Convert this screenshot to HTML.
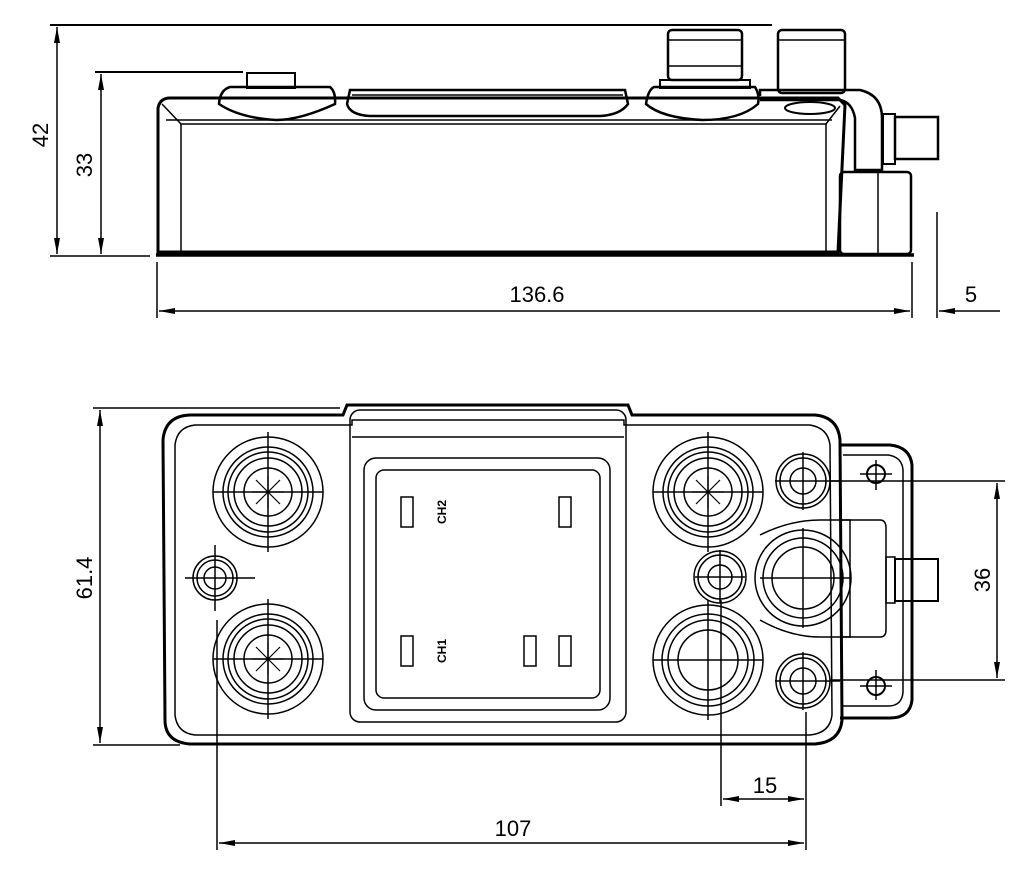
<!DOCTYPE html>
<html><head><meta charset="utf-8"><style>
html,body{margin:0;padding:0;background:#fff;}
svg{display:block;}
text{font-family:"Liberation Sans",sans-serif;font-size:22px;fill:#000;}
</style></head><body>
<svg width="1024" height="881" viewBox="0 0 1024 881" xmlns="http://www.w3.org/2000/svg">
<defs>
<marker id="a" markerWidth="16" markerHeight="6" refX="16" refY="3" orient="auto" markerUnits="userSpaceOnUse"><path d="M0,0 L16,3 L0,6 Z" fill="#000"/></marker>
<marker id="b" markerWidth="16" markerHeight="6" refX="0" refY="3" orient="auto" markerUnits="userSpaceOnUse"><path d="M16,0 L0,3 L16,6 Z" fill="#000"/></marker>
</defs>
<g stroke="#000" fill="none" stroke-width="1.5">
<line x1="50" y1="25" x2="772" y2="25" stroke-width="2"/>
<line x1="50" y1="256" x2="150" y2="256"/>
<line x1="57" y1="27" x2="57" y2="254" marker-start="url(#b)" marker-end="url(#a)"/>
<line x1="95" y1="72" x2="243" y2="72" stroke-width="2"/>
<line x1="101" y1="74" x2="101" y2="254" marker-start="url(#b)" marker-end="url(#a)"/>
<path d="M158,252 L158,108 Q160,98 170,98 L838,98 L845,105 L838,252 Z" stroke-width="3"/>
<path d="M162,104 L181,124 L826,124 L840,106" stroke-width="1.5"/>
<line x1="166" y1="120" x2="832" y2="120"/>
<line x1="181" y1="124" x2="181" y2="252"/>
<line x1="826" y1="124" x2="826" y2="252"/>
<line x1="156" y1="255" x2="914" y2="255" stroke-width="3.5"/>
<path d="M219,104 Q220,90 230,87 L330,87 Q336,92 335,104 Q300,120 276,120 Q240,118 219,104 Z" stroke-width="2.5"/>
<rect x="247" y="73" width="48" height="15" stroke-width="2"/>
<path d="M347,104 L350,90 L625,90 L628,104 Q620,115 600,116 L370,116 Q350,115 347,104 Z" stroke-width="2.5"/>
<line x1="352" y1="95" x2="623" y2="95"/>
<path d="M646,104 Q648,90 654,87 L755,87 Q760,95 758,104 Q740,120 702,120 Q662,118 646,104 Z" stroke-width="2.5"/>
<rect x="660" y="80" width="90" height="8" stroke-width="2"/>
<rect x="668" y="30" width="74" height="50" rx="4" stroke-width="2.5"/>
<line x1="668" y1="40" x2="742" y2="40"/>
<line x1="668" y1="66" x2="742" y2="66"/>
<rect x="778" y="30" width="67" height="63" rx="4" stroke-width="2.5"/>
<line x1="778" y1="40" x2="845" y2="40"/>
<path d="M760,96 L760,90 L860,90 Q882,95 882,118 L882,170 L855,170 L855,118 Q852,102 840,100 L760,100" stroke-width="2.5"/>
<ellipse cx="810" cy="108" rx="25" ry="6" stroke-width="2"/>
<rect x="883" y="114" width="12" height="50" stroke-width="2"/>
<rect x="895" y="117" width="43" height="42" stroke-width="2.5"/>
<rect x="840" y="172" width="71" height="82" rx="4" stroke-width="2.5"/>
<line x1="878" y1="172" x2="878" y2="254"/>
<line x1="157" y1="262" x2="157" y2="318"/>
<line x1="912" y1="262" x2="912" y2="318"/>
<line x1="937" y1="212" x2="937" y2="318"/>
<line x1="159" y1="311" x2="910" y2="311" marker-start="url(#b)" marker-end="url(#a)"/>
<line x1="1000" y1="311" x2="939" y2="311" marker-end="url(#a)"/>

<line x1="93" y1="408" x2="340" y2="408"/>
<line x1="93" y1="745" x2="180" y2="745"/>
<line x1="100" y1="410" x2="100" y2="743" marker-start="url(#b)" marker-end="url(#a)"/>
<path d="M190,415 L343,415 L347,405 L628,405 L632,415 L815,415 Q838,417 840,440 L842,720 Q840,742 815,744 L190,744 Q165,742 165,720 L163,440 Q165,416 190,415 Z" stroke-width="3"/>
<path d="M195,425 L352,425 L352,420 L624,420 L624,425 L810,425 Q828,428 830,445 L832,715 Q830,733 810,735 L195,735 Q177,733 175,715 L175,445 Q177,427 195,425 Z"/>
<rect x="350" y="410" width="276" height="312" rx="10"/>
<line x1="352" y1="437" x2="624" y2="437"/>
<rect x="364" y="458" width="246" height="252" rx="12" stroke-width="1.5"/>
<rect x="376" y="470" width="224" height="228" rx="8" stroke-width="1.5"/>
<rect x="401" y="497" width="12" height="30"/>
<rect x="559" y="497" width="12" height="30"/>
<rect x="401" y="636" width="12" height="30"/>
<rect x="524" y="636" width="12" height="30"/>
<rect x="559" y="636" width="12" height="30"/>
<path d="M840,445 L890,445 Q910,447 912,465 L912,700 Q910,718 890,718 L840,718" stroke-width="3"/>
<path d="M843,455 L888,455 Q902,457 903,470 L903,692 Q902,706 888,706 L843,706"/>
<path d="M840,520 L880,520 Q886,520 886,528 L886,630 Q886,637 880,637 L840,637"/>
<path d="M760,535 Q790,520 820,520 L850,520 L850,637 L820,637 Q790,637 760,620"/>
<rect x="886" y="557" width="9" height="46"/>
<rect x="895" y="559" width="43" height="42" stroke-width="2"/>
<circle cx="268" cy="492" r="55"/><circle cx="268" cy="492" r="45"/><circle cx="268" cy="492" r="40"/><circle cx="268" cy="492" r="34"/><circle cx="268" cy="492" r="24"/>
<circle cx="268" cy="659" r="55"/><circle cx="268" cy="659" r="45"/><circle cx="268" cy="659" r="40"/><circle cx="268" cy="659" r="34"/><circle cx="268" cy="659" r="24"/>
<circle cx="708" cy="492" r="55"/><circle cx="708" cy="492" r="45"/><circle cx="708" cy="492" r="40"/><circle cx="708" cy="492" r="34"/><circle cx="708" cy="492" r="24"/>
<circle cx="708" cy="660" r="55"/><circle cx="708" cy="660" r="46"/><circle cx="708" cy="660" r="40"/><circle cx="708" cy="660" r="30"/>
<g stroke-width="1.2">
<path d="M256,480 L280,504 M280,480 L256,504 M268,476 L268,508 M252,492 L284,492"/>
<path d="M256,647 L280,671 M280,647 L256,671 M268,643 L268,675 M252,659 L284,659"/>
<path d="M696,480 L720,504 M720,480 L696,504 M708,476 L708,508 M692,492 L724,492"/>
</g>
<circle cx="215" cy="578" r="22"/><circle cx="215" cy="578" r="18"/><circle cx="215" cy="578" r="11"/>
<circle cx="720" cy="577" r="26"/><circle cx="720" cy="577" r="22"/><circle cx="720" cy="577" r="12"/>
<circle cx="803" cy="481" r="27"/><circle cx="803" cy="481" r="23"/><circle cx="803" cy="481" r="13"/>
<circle cx="803" cy="681" r="27"/><circle cx="803" cy="681" r="23"/><circle cx="803" cy="681" r="13"/>
<circle cx="803" cy="578" r="48"/><circle cx="803" cy="578" r="40"/><circle cx="803" cy="578" r="31"/>
<circle cx="876" cy="474" r="9" stroke-width="2"/><circle cx="876" cy="686" r="9" stroke-width="2"/>
<g stroke-width="1.5">
<path d="M268,432 V552 M213,492 H323 M268,599 V719 M213,659 H323 M708,432 V552 M653,492 H763 M708,600 V720 M653,660 H763"/>
<path d="M185,578 H255 M215,545 V611 M695,577 H745 M720,550 V603 M775,481 H840 M803,452 V510 M775,681 H840 M803,652 V710 M760,578 H850 M803,528 V628 M860,474 H892 M876,460 V490 M860,686 H892 M876,670 V700"/>
</g>
<line x1="830" y1="481" x2="1005" y2="481"/>
<line x1="830" y1="680" x2="1005" y2="680"/>
<line x1="997" y1="483" x2="997" y2="678" marker-start="url(#b)" marker-end="url(#a)"/>
<line x1="721" y1="600" x2="721" y2="806"/>
<line x1="806" y1="712" x2="806" y2="850"/>
<line x1="217" y1="620" x2="217" y2="850"/>
<line x1="723" y1="799" x2="804" y2="799" marker-start="url(#b)" marker-end="url(#a)"/>
<line x1="219" y1="843" x2="804" y2="843" marker-start="url(#b)" marker-end="url(#a)"/>
</g>
<text x="537" y="302" text-anchor="middle">136.6</text>
<text x="971" y="302" text-anchor="middle">5</text>
<text transform="translate(48,135) rotate(-90)" text-anchor="middle">42</text>
<text transform="translate(92,165) rotate(-90)" text-anchor="middle">33</text>
<text transform="translate(92,578) rotate(-90)" text-anchor="middle">61.4</text>
<text transform="translate(990,580) rotate(-90)" text-anchor="middle">36</text>
<text x="765" y="793" text-anchor="middle">15</text>
<text x="513" y="836" text-anchor="middle">107</text>
<text transform="translate(446,512) rotate(-90)" text-anchor="middle" style="font-size:12px;font-weight:bold">CH2</text>
<text transform="translate(446,651) rotate(-90)" text-anchor="middle" style="font-size:12px;font-weight:bold">CH1</text>
</svg>
</body></html>
